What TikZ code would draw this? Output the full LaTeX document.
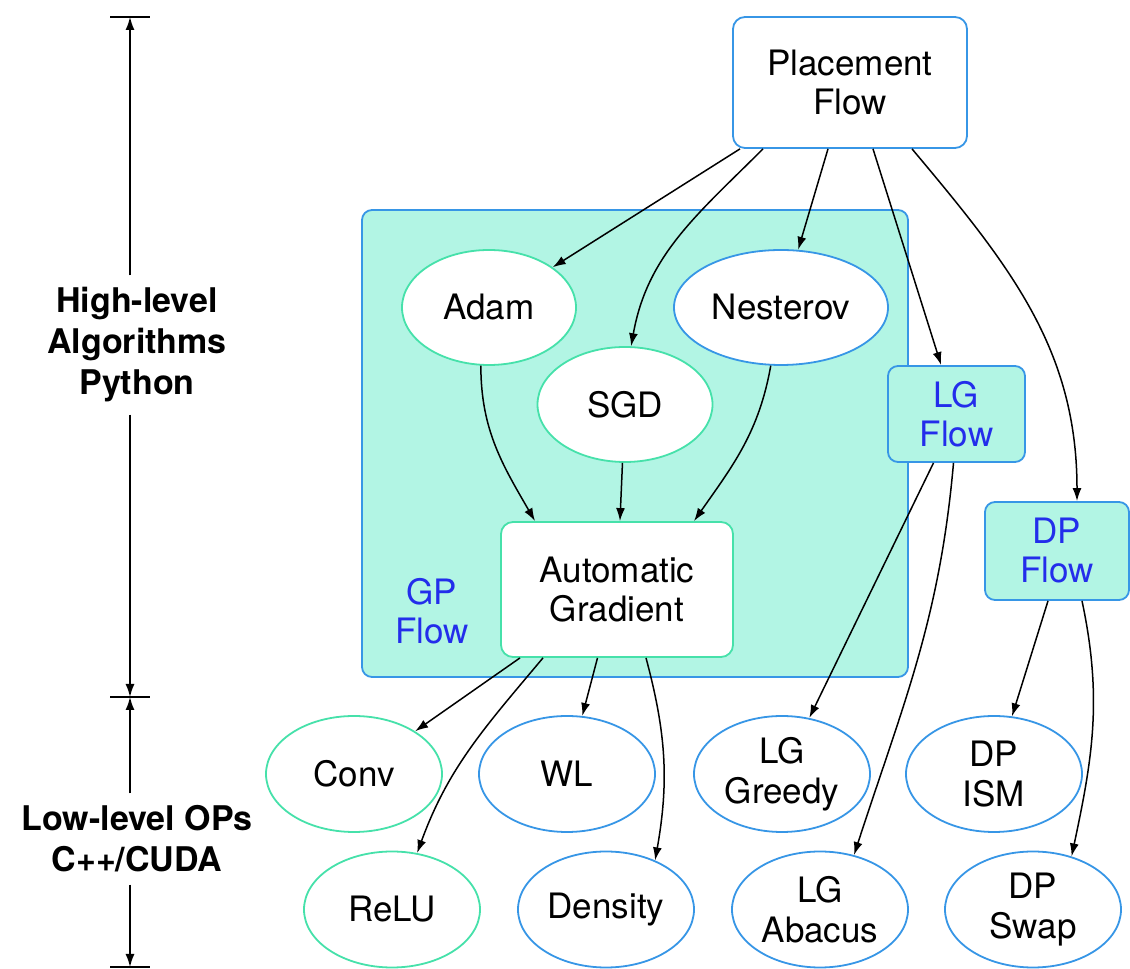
\documentclass[tikz,border=0pt]{standalone}
\usepackage{fontspec}
\setmainfont{TeX Gyre Heros}
\usepackage{xcolor}
\usetikzlibrary{positioning, arrows.meta, shapes.geometric, calc}
\definecolor{mintline}{RGB}{70,225,170}
\definecolor{skyline}{RGB}{55,150,230}
\definecolor{aquafill}{RGB}{178,245,228}
\definecolor{flowtext}{RGB}{35,45,235}
\tikzset{
  flowbox/.style={
    rectangle, rounded corners=12pt,
    draw=skyline, line width=1.8pt,
    fill=white,
    align=center, font=\fontsize{35}{39}\selectfont, inner sep=0pt
  },
  subflow/.style={flowbox, fill=aquafill, text=flowtext, rounded corners=10pt},
  gradbox/.style={flowbox, draw=mintline},
  opnode/.style={
    ellipse, draw=skyline, line width=1.8pt,
    fill=white,
    minimum width=176pt, minimum height=116pt,
    align=center, font=\fontsize{35}{40}\selectfont, inner sep=0pt
  },
  opnode-py/.style={opnode, draw=mintline},
  flowarrow/.style={
    -{Latex[length=13pt,width=9pt]}, draw=black, line width=1.5pt
  },
  axislabel/.style={align=center, font=\bfseries\fontsize{34}{41}\selectfont, inner sep=12pt},
  axisarrow/.style={-{Latex[length=13pt,width=9pt]}, draw=black, line width=1.5pt}
}
\begin{document}
\begin{tikzpicture}[x=1pt, y=1pt]
  \useasboundingbox (0,0) rectangle (1130,969);

  % GP flow region
  \node[subflow, minimum width=546pt, minimum height=467pt] (gp) at (635,525.5) {};
  \node[font=\fontsize{35}{39}\selectfont, text=flowtext, align=center] (gplabel) at (432,358) {GP\\Flow};

  \node[flowbox, minimum width=234pt, minimum height=131pt] (place) at (850,886.5) {Placement\\Flow};
  \node[opnode-py, minimum width=174pt, minimum height=115pt] (adam) at (489,661.5) {Adam};
  \node[opnode, minimum width=214pt, minimum height=115pt] (nest) at (781,661.5) {Nesterov};
  \node[opnode-py, minimum width=175pt, minimum height=115pt] (sgd) at (625,564.5) {SGD};
  \node[gradbox, minimum width=232pt, minimum height=135pt] (auto) at (617,379.5) {Automatic\\Gradient};
  \node[subflow, minimum width=137pt, minimum height=96pt] (lgflow) at (956.5,555) {LG\\Flow};
  \node[subflow, minimum width=144pt, minimum height=98pt] (dpflow) at (1057,418) {DP\\Flow};

  % low-level operators
  \node[opnode-py] (conv) at (354,195) {Conv};
  \node[opnode] (wl) at (567,195) {WL};
  \node[opnode] (lggreedy) at (782,195) {LG\\Greedy};
  \node[opnode] (dpism) at (994,195) {DP\\ISM};
  \node[opnode-py] (relu) at (392,59.5) {ReLU};
  \node[opnode] (dens) at (606,59.5) {Density};
  \node[opnode] (lgabacus) at (820,59.5) {LG\\Abacus};
  \node[opnode] (dpswap) at (1033,59.5) {DP\\Swap};

  \draw[flowarrow] ([xshift=-110pt]place.south) -- (adam);
  \draw[flowarrow] ([xshift=-87pt]place.south) to[out=-135, in=80] (sgd.84);
  \draw[flowarrow] ([xshift=-22pt]place.south) -- (nest);
  \draw[flowarrow] ([xshift=23pt]place.south) -- (lgflow);
  \draw[flowarrow] ([xshift=62pt]place.south) to[out=-50, in=90] ([xshift=20pt]dpflow.north);

  \draw[flowarrow] (adam.262) to[out=-90, in=120] ([xshift=-82pt]auto.north);
  \draw[flowarrow] (sgd) -- (auto);
  \draw[flowarrow] (nest.260) to[out=-100, in=55] ([xshift=77pt]auto.north);

  \draw[flowarrow] ([xshift=-97pt]auto.south) -- (conv);
  \draw[flowarrow] ([xshift=-74pt]auto.south) to[out=-130, in=70] (relu.66);
  \draw[flowarrow] ([xshift=-19.5pt]auto.south) -- (wl);
  \draw[flowarrow] ([xshift=29pt]auto.south) to[out=-75, in=80] (dens.45);

  \draw[flowarrow] ([xshift=-23pt]lgflow.south) -- (lggreedy);
  \draw[flowarrow] ([xshift=-3pt]lgflow.south) to[out=-95, in=72] (lgabacus.58);
  \draw[flowarrow] ([xshift=-9pt]dpflow.south) -- (dpism);
  \draw[flowarrow] ([xshift=25pt]dpflow.south) to[out=-78, in=78] (dpswap.54);

  % level axis
  \coordinate (toptick) at (130,952);
  \coordinate (midtick) at (130,272);
  \coordinate (bottick) at (130,2);
  \node[axislabel] (high) at (137,624) {High-level\\Algorithms\\Python};
  \node[axislabel] (low) at (137,130) {Low-level OPs\\C++/CUDA};
  \draw[axisarrow] (toptick |- high.north) -- (toptick);
  \draw[axisarrow] (toptick |- high.south) -- (midtick);
  \draw[axisarrow] (toptick |- low.north) -- (midtick);
  \draw[axisarrow] (toptick |- low.south) -- (bottick);
  \foreach \t in {toptick, midtick, bottick}
    \draw[line width=1.5pt] ([xshift=-20pt]\t) -- ([xshift=20pt]\t);
\end{tikzpicture}
\end{document}
